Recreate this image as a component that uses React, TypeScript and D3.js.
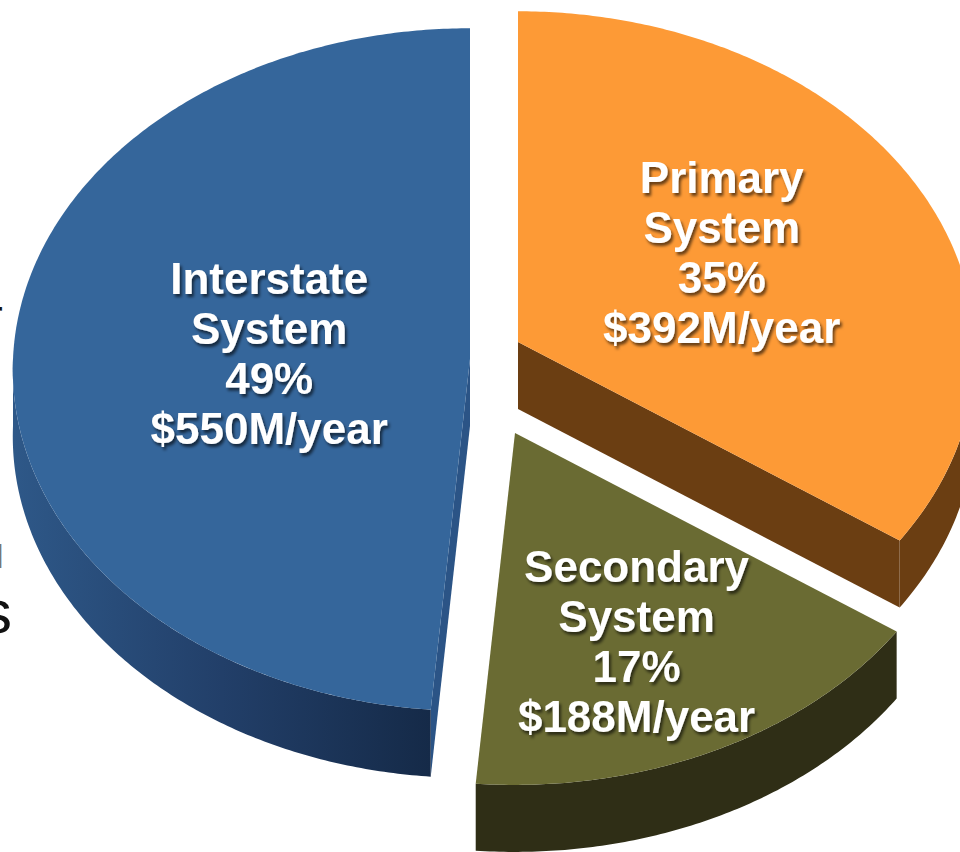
import React from "react";
import * as d3 from "d3";

// ---- data ----
const categories = ["Primary System", "Secondary System", "Interstate System"];
const valuesM = [392, 188, 550]; // $M per year
const percentLabels = ["35%", "17%", "49%"];

// ---- style ----
const W = 960;
const H = 852;
const topColors = ["#fd9a36", "#6a6b33", "#35669b"];
const cutColors = ["#6b3e12", "#2f2e16", "#2b5486"];
const wallColors = ["#6b3e12", "#2f2e16", "url(#blueWall)"];
const explode = [
  { dx: 48, dy: -17 },
  { dx: 45, dy: 74 },
  { dx: 0, dy: 0 },
];
const labelRadius = [0.522, 0.653, 0.44];
const labelAngleShiftDeg = [-3, 1.6, 0];
const CX = 470;
const CY = 359;
const RX = 457;
const RY = 341;
const PERSP = 0.031;
const DEPTH = 67;
const FONT = "'Liberation Sans', Arial, Helvetica, sans-serif";
const FONT_SIZE = 44;
const LINE_H = 50;

type P = [number, number];

function project(cx: number, cy: number, r: number, a: number): P {
  const X = r * Math.sin(a);
  const Z = -r * Math.cos(a);
  const s = 1 / (1 - PERSP * Z);
  return [cx + RX * X * s, cy + RY * Z * s];
}

function arcPts(cx: number, cy: number, a0: number, a1: number, dy = 0): P[] {
  const n = Math.max(2, Math.ceil(Math.abs(a1 - a0) / 0.01));
  return d3.range(n + 1).map((i) => {
    const a = a0 + ((a1 - a0) * i) / n;
    const p = project(cx, cy, 1, a);
    return [p[0], p[1] + dy] as P;
  });
}

const line = d3
  .line<P>()
  .x((d) => d[0])
  .y((d) => d[1]);

export default function App() {
  const pie = d3
    .pie<number>()
    .sort(null)
    .value((d) => d)
    .startAngle(0)
    .endAngle(2 * Math.PI);
  const arcs = pie(valuesM);

  const slices = arcs.map((arc, i) => {
    const cx = CX + explode[i].dx;
    const cy = CY + explode[i].dy;
    const s = arc.startAngle;
    const e = arc.endAngle;
    const apex: P = [cx, cy];
    const top = line([apex, ...arcPts(cx, cy, s, e)]) + "Z";

    const sides: { d: string; fill: string }[] = [];
    // cut faces
    if (Math.sin(s) < -1e-6) {
      const p = project(cx, cy, 1, s);
      sides.push({
        d: line([apex, p, [p[0], p[1] + DEPTH], [apex[0], apex[1] + DEPTH]]) + "Z",
        fill: cutColors[i],
      });
    }
    if (Math.sin(e) > 1e-6) {
      const p = project(cx, cy, 1, e);
      sides.push({
        d: line([apex, p, [p[0], p[1] + DEPTH], [apex[0], apex[1] + DEPTH]]) + "Z",
        fill: cutColors[i],
      });
    }
    // outer wall (front half)
    const w0 = Math.max(s, Math.PI / 2);
    const w1 = Math.min(e, (3 * Math.PI) / 2);
    if (w0 < w1) {
      const upper = arcPts(cx, cy, w0, w1);
      const lower = arcPts(cx, cy, w1, w0, DEPTH);
      sides.push({ d: line([...upper, ...lower]) + "Z", fill: wallColors[i] });
    }

    const mid = (s + e) / 2 + (labelAngleShiftDeg[i] * Math.PI) / 180;
    const lp = project(cx, cy, labelRadius[i], mid);
    const words = categories[i].split(" ");
    const lines = [...words, percentLabels[i], `$${valuesM[i]}M/year`];
    return { top, sides, lp, lines, i };
  });

  const capH = FONT_SIZE * 0.716;

  return (
    <svg
      width={W}
      height={H}
      viewBox={`0 0 ${W} ${H}`}
      style={{ position: "absolute", left: 0, top: 0, display: "block", background: "#fff" }}
    >
      <defs>
        <linearGradient id="blueWall" x1="0" y1="0" x2="1" y2="0">
          <stop offset="0" stopColor="#2e5888" />
          <stop offset="0.5" stopColor="#223f69" />
          <stop offset="1" stopColor="#152a48" />
        </linearGradient>
        <filter id="tshadow" x="-10%" y="-30%" width="130%" height="160%">
          <feDropShadow dx="2" dy="3" stdDeviation="1.8" floodColor="#000" floodOpacity="0.6" />
        </filter>
      </defs>
      <rect x={0} y={0} width={W} height={H} fill="#fff" />

      {/* cropped slide text at the left edge */}
      <g fontFamily={FONT} fill="#111">
        <text x={-12} y={331} fontSize={44}>r</text>
        <text x={-4} y={568} fontSize={34} fill="#777">l</text>
        <text x={-19} y={633} fontSize={62}>s</text>
      </g>

      {[2, 0, 1].map((k) => {
        const sl = slices[k];
        return (
          <g key={k}>
            {sl.sides.map((sd, j) => (
              <path key={j} d={sd.d} fill={sd.fill} />
            ))}
            <path d={sl.top} fill={topColors[k]} />
          </g>
        );
      })}

      {slices.map((sl) => {
        const blockH = (sl.lines.length - 1) * LINE_H + capH;
        const firstBase = sl.lp[1] - blockH / 2 + capH;
        return (
          <g key={"t" + sl.i} filter="url(#tshadow)">
            {sl.lines.map((t, j) => (
              <text
                key={j}
                x={sl.lp[0]}
                y={firstBase + j * LINE_H}
                textAnchor="middle"
                fontFamily={FONT}
                fontWeight="bold"
                fontSize={FONT_SIZE}
                fill="#fff"
              >
                {t}
              </text>
            ))}
          </g>
        );
      })}
    </svg>
  );
}
